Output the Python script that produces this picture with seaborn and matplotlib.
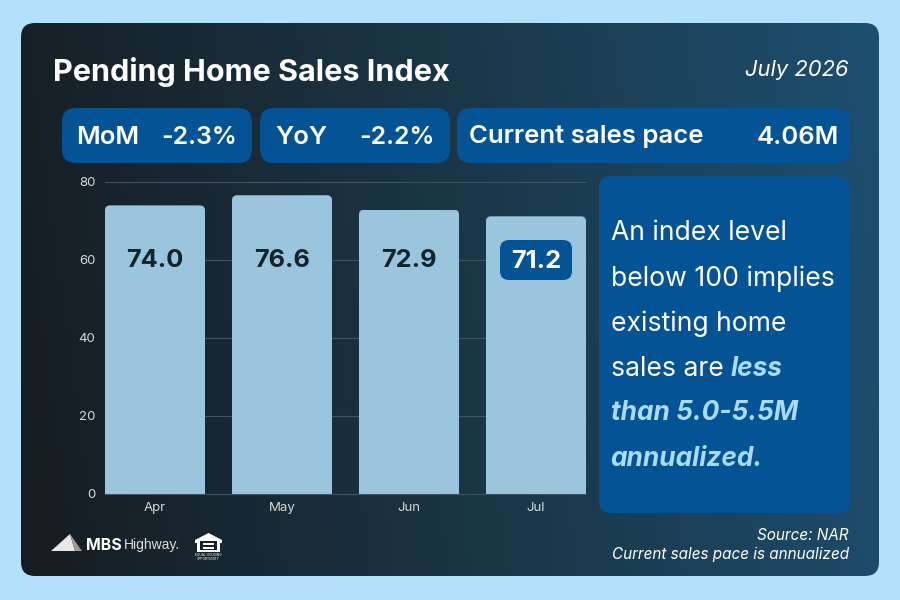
import numpy as np
import pandas as pd
import matplotlib
matplotlib.use("Agg")
import matplotlib.pyplot as plt
import seaborn as sns
from matplotlib.patches import FancyBboxPatch, Polygon, Rectangle
from matplotlib.transforms import IdentityTransform
from matplotlib.colors import LinearSegmentedColormap

months = ["Apr", "May", "Jun", "Jul"]
index_values = [74.0, 76.6, 72.9, 71.2]
value_labels = ["74.0", "76.6", "72.9", "71.2"]
y_ticks = [0, 20, 40, 60, 80]

title = "Pending Home Sales Index"
date_label = "July 2026"
source_lines = ["Source: NAR", "Current sales pace is annualized"]

sns.set_theme(style="white")
plt.rcParams["font.family"] = ["Inter", "DejaVu Sans"]

PAGE = "#b3e1fb"
BLUE = "#045394"
BAR = "#9ac5dc"
LIGHT = "#a9dcfa"
INK = "#12242a"

fig = plt.figure(figsize=(9, 6), dpi=100, facecolor=PAGE)

bg = fig.add_axes([0, 0, 1, 1], zorder=0)
bg.set_xlim(0, 900)
bg.set_ylim(600, 0)
bg.axis("off")


def rbox(axis, x0, y0, x1, y1, r, color, z=2):
    p = FancyBboxPatch((x0 + r, y0 + r), x1 - x0 - 2 * r, y1 - y0 - 2 * r,
                       boxstyle=f"round,pad={r},rounding_size={r}",
                       fc=color, ec="none", zorder=z)
    axis.add_patch(p)
    return p


card = rbox(bg, 21, 23, 879, 576, 14, "none", 1)
cmap = LinearSegmentedColormap.from_list("card", ["#161c21", "#1a3545", "#1d4f70"])
xx, yy = np.meshgrid(np.linspace(0, 1, 300), np.linspace(0, 1, 200))
grad = bg.imshow(0.92 * xx + 0.08 * (1 - yy), extent=(21, 879, 576, 23), cmap=cmap,
                 vmin=0, vmax=1, aspect="auto", zorder=1)
grad.set_clip_path(card)
bg.set_xlim(0, 900)
bg.set_ylim(600, 0)

bg.text(53, 72, title, color="white", fontsize=22, fontweight="bold", va="center", ha="left")
bg.text(849, 70, date_label, color="white", fontsize=15.8, style="italic", va="center", ha="right")

# stat pills
rbox(bg, 62, 108, 252, 163, 14, BLUE)
rbox(bg, 260, 108, 450, 163, 14, BLUE)
rbox(bg, 457, 108, 850, 163, 14, BLUE)
pill = dict(color="white", fontsize=18.5, fontweight="semibold", va="center", zorder=3)
pct = dict(pill, fontsize=17.9)
bg.text(76, 137, "MoM", ha="left", **pill)
bg.text(237, 137, "-2.3%", ha="right", **pct)
bg.text(275, 137, "YoY", ha="left", **pill)
bg.text(435, 137, "-2.2%", ha="right", **pct)
bg.text(469, 137, "Current sales pace", ha="left", **pill)
bg.text(839, 137, "4.06M", ha="right", **pill)

# note panel
rbox(bg, 599, 176, 850, 513, 12, BLUE)
note = dict(fontsize=19.1, va="center", ha="left", zorder=3)
bold_note = dict(fontsize=18.9, va="center", ha="left", zorder=3,
                 color=LIGHT, fontweight="bold", style="italic")
bg.text(611, 233.5, "An index level", color="white", **note)
bg.text(611, 278.5, "below 100 implies", color="white", **note)
bg.text(611, 323.5, "existing home", color="white", **note)
bg.text(611, 368.5, "sales are", color="white", **note)
bg.text(731, 368.5, "less", **bold_note)
bg.text(611, 413.5, "than 5.0-5.5M", **bold_note)
bg.text(611, 458.5, "annualized.", **bold_note)

# footer
bg.text(849, 535, source_lines[0], color="white", fontsize=11, style="italic", ha="right", va="center")
bg.text(849, 554, source_lines[1], color="white", fontsize=11, style="italic", ha="right", va="center")

# MBS logo
bg.add_patch(Polygon([[51, 551], [70, 534], [75, 551]], fc="#e8e8e8", ec="none", zorder=3))
bg.add_patch(Polygon([[70, 534], [82, 551], [75, 551]], fc="#9a9a9a", ec="none", zorder=3))
bg.text(86, 545, "MBS", color="white", fontsize=11.5, fontweight="bold", va="center", ha="left")
bg.text(124, 545, "Highway.", color="#dddddd", fontsize=10, va="center", ha="left",
        family=["Liberation Sans"])

# equal housing logo
bg.add_patch(Polygon([[195, 540], [208.5, 533], [222, 540], [222, 543], [220, 543], [220, 552],
                      [197, 552], [197, 543], [195, 543]], fc="white", ec="none", zorder=3))
bg.add_patch(Rectangle((200, 541), 17, 9, fc="#17222a", ec="none", zorder=4))
bg.add_patch(Rectangle((203, 543), 11, 2, fc="white", ec="none", zorder=5))
bg.add_patch(Rectangle((203, 546.5), 11, 2, fc="white", ec="none", zorder=5))
bg.text(208.5, 555.5, "EQUAL HOUSING", color="white", fontsize=2.3, ha="center", va="center")
bg.text(208.5, 558.5, "OPPORTUNITY", color="white", fontsize=2.3, ha="center", va="center")

# chart: axes spans x 105..586 px, y 182..494 px
ax = fig.add_axes([105 / 900, (600 - 494) / 600, 481 / 900, 312 / 600], zorder=1)
ax.patch.set_alpha(0)
df = pd.DataFrame({"month": months, "value": index_values})
half = 50 / 127
sns.barplot(data=df, x="month", y="value", color=BAR, saturation=1, width=2 * half,
            linewidth=0, edgecolor="none", ax=ax, zorder=3)
ax.set_xlim(-half, 3 + half)
ax.set_ylim(0, 80)
ax.set_xlabel("")
ax.set_ylabel("")
ax.set_yticks(y_ticks)
ax.yaxis.grid(True, color="#3d5564", lw=0.8)
ax.set_axisbelow(True)
for g in ax.get_ygridlines():
    g.set_clip_on(False)
sns.despine(ax=ax, left=True, bottom=True, right=True, top=True)
ax.tick_params(axis="both", length=0, labelsize=9.5, labelcolor="#d5d9dc")
ax.tick_params(axis="y", pad=7)
ax.tick_params(axis="x", pad=6)

fig.canvas.draw()
for bar in ax.patches:
    bb = bar.get_window_extent()
    clip = FancyBboxPatch((bb.x0 + 5, bb.y0 - 20), bb.width - 10, bb.height + 15,
                          boxstyle="round,pad=5,rounding_size=5", transform=IdentityTransform())
    bar.set_clip_path(clip)

for i, lab in enumerate(value_labels[:3]):
    ax.text(i, 59.8, lab, ha="center", va="center", color=INK, fontsize=18.3, fontweight="bold", zorder=6)

# highlighted last value
top = fig.add_axes([0, 0, 1, 1], zorder=2)
top.set_xlim(0, 900)
top.set_ylim(600, 0)
top.axis("off")
px = ax.transData.transform((3, 60))
cx, cy = px[0], 600 - px[1]
rbox(top, cx - 36, cy - 20, cx + 36, cy + 20, 9, BLUE)
top.text(cx, cy + 1, value_labels[3], ha="center", va="center", color="white", fontsize=18.3,
         fontweight="bold", zorder=3)

fig.savefig("out.png", dpi=100, facecolor=PAGE)
